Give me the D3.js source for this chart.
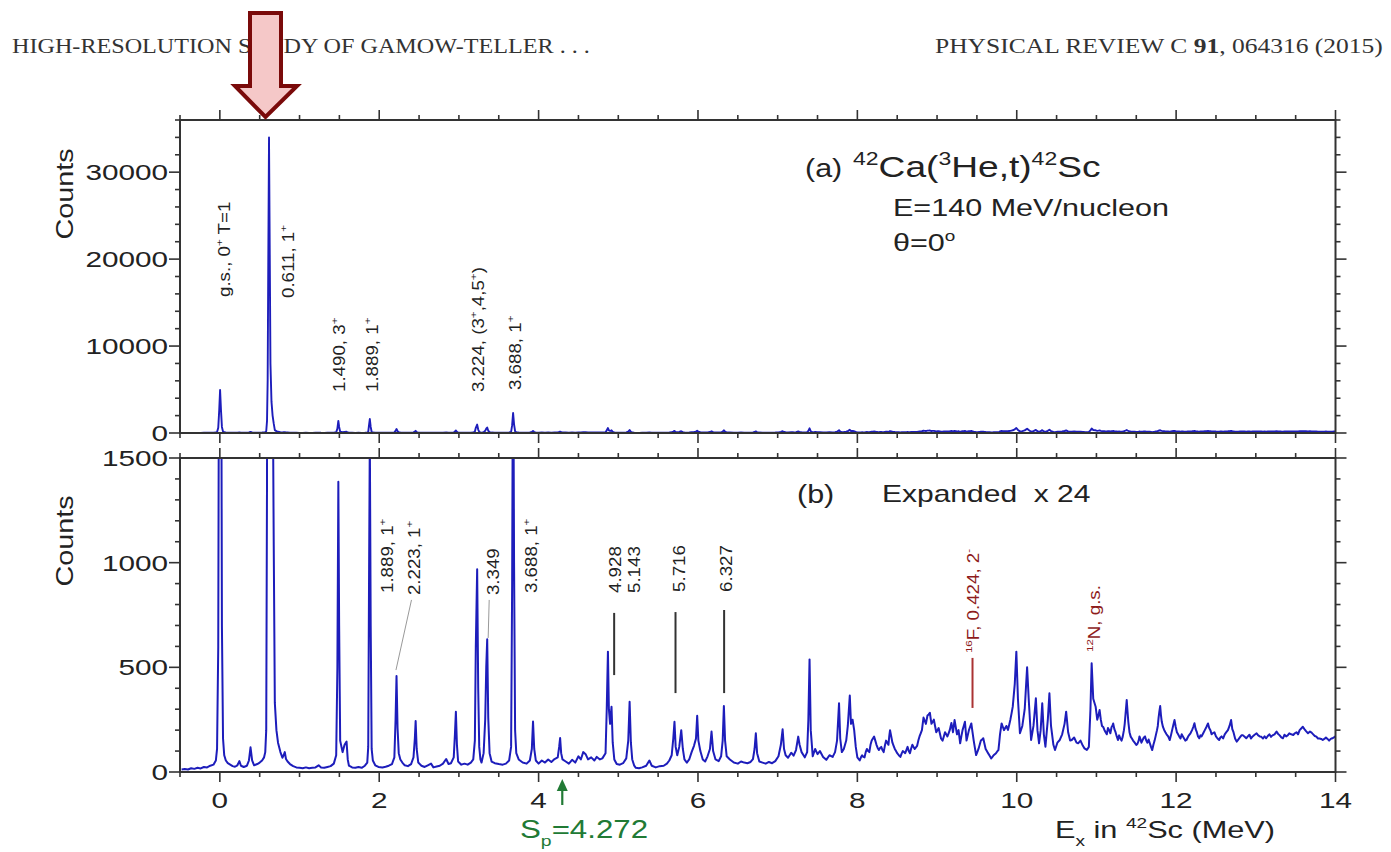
<!DOCTYPE html>
<html>
<head>
<meta charset="utf-8">
<script src="https://cdn.jsdelivr.net/npm/d3@7"></script>
<style>
  body { margin: 0; background: #fff; }
</style>
</head>
<body>
<div id="chart"></div>
<script>
const SVG_WIDTH = 1391;
const SVG_HEIGHT = 852;

////////// data //////////

// Ex in MeV, counts per bin
const spectrumLow = [
  [-0.48,12],[-0.44,14],[-0.40,12],[-0.36,18],[-0.32,15],[-0.28,20],[-0.24,17],[-0.20,24],[-0.16,22],[-0.12,30],
  [-0.08,35],[-0.05,55],[-0.035,110],[-0.02,600],[-0.008,2600],[0.003,4950],[0.014,2700],[0.026,700],[0.04,160],
  [0.055,80],[0.075,55],[0.1,42],[0.13,35],[0.16,28],[0.19,25],[0.22,32],[0.245,52],[0.265,30],[0.3,24],[0.34,30],
  [0.365,55],[0.385,118],[0.405,55],[0.43,32],[0.47,38],[0.5,45],[0.53,55],[0.555,70],[0.57,95],[0.582,200],
  [0.592,1400],[0.600,6000],[0.608,20000],[0.617,34000],[0.626,21000],[0.635,8000],[0.648,3600],[0.662,2000],
  [0.676,1100],[0.69,330],[0.71,200],[0.73,140],[0.76,95],[0.785,68],[0.80,80],[0.815,95],[0.83,62],[0.85,50],
  [0.88,38],[0.92,28],[0.96,22],[1.0,20],[1.04,18],[1.08,22],[1.12,18],[1.16,20],[1.2,22],[1.24,32],[1.27,22],
  [1.31,20],[1.35,24],[1.39,28],[1.43,40],[1.46,80],[1.475,500],[1.487,1387],[1.497,700],[1.51,150],[1.54,95],
  [1.565,130],[1.59,145],[1.605,60],[1.62,30],[1.66,22],[1.7,20],[1.74,24],[1.78,20],[1.82,30],[1.85,45],
  [1.862,120],[1.872,900],[1.882,1610],[1.893,700],[1.905,110],[1.92,55],[1.95,32],[1.99,24]
];

const spectrumMid = [
  [2.04,22],[2.08,25],[2.12,30],[2.16,38],[2.19,70],[2.205,250],[2.217,459],[2.23,210],[2.245,90],[2.265,60],
  [2.29,45],[2.32,32],[2.36,28],[2.4,38],[2.43,70],[2.447,160],[2.457,244],[2.47,110],[2.49,45],[2.53,30],
  [2.57,24],[2.61,32],[2.65,40],[2.68,22],[2.72,26],[2.76,30],[2.8,40],[2.84,62],[2.87,38],[2.9,42],[2.935,70],
  [2.95,180],[2.962,288],[2.975,130],[2.99,50],[3.03,35],[3.07,40],[3.11,35],[3.15,45],[3.18,60],[3.2,150],
  [3.212,600],[3.229,968],[3.242,400],[3.255,120],[3.27,60],[3.284,45],[3.31,90],[3.33,250],[3.343,500],
  [3.355,634],[3.368,260],[3.385,90],[3.41,50],[3.45,42],[3.5,38],[3.55,35],[3.59,40],[3.63,55],[3.655,120],
  [3.668,900],[3.68,2300],[3.692,1000],[3.705,200],[3.72,90],[3.75,60],[3.8,45],[3.85,40],[3.89,55],[3.915,110],
  [3.93,241],[3.945,110],[3.965,55],[4.0,40],[4.04,55],[4.08,45],[4.12,60],[4.16,48],[4.2,62],[4.24,70],
  [4.258,120],[4.27,162],[4.283,90],[4.3,60],[4.34,50],[4.38,40],[4.42,58],[4.46,45],[4.5,75],[4.53,60],
  [4.56,95],[4.59,85],[4.62,60],[4.66,70],[4.7,55],[4.73,72],[4.77,60],[4.8,65],[4.84,90],[4.855,300],
  [4.87,575],[4.882,300],[4.897,230],[4.915,312],[4.93,140],[4.95,60],[4.98,38],[5.02,35],[5.06,42],[5.1,65],
  [5.125,150],[5.142,336],[5.158,140],[5.175,60],[5.2,30],[5.22,20],[5.26,18],[5.3,22],[5.35,30],[5.39,55],
  [5.42,30],[5.47,22],[5.52,28],[5.57,30],[5.61,40],[5.64,55],[5.67,80],[5.69,160],[5.705,240],[5.72,120],
  [5.74,80],[5.765,120],[5.79,200],[5.81,110],[5.83,60],[5.86,45],[5.89,60],[5.92,95],[5.95,125],[5.975,160],
  [5.99,269],[6.005,150],[6.03,100],[6.06,60],[6.09,50],[6.12,75],[6.15,110],[6.17,193],[6.19,100],[6.22,60],
  [6.26,52],[6.29,75],[6.31,150],[6.325,315],[6.34,150],[6.36,75],[6.4,60],[6.45,45],[6.5,40],[6.54,50],
  [6.58,45],[6.62,42],[6.66,48],[6.69,62],[6.71,110],[6.726,185],[6.742,90],[6.77,50],[6.81,45],[6.85,40],
  [6.89,48],[6.93,42],[6.97,52],[7.01,75],[7.04,130],[7.062,204],[7.08,110],[7.1,80],[7.13,68],[7.17,92],
  [7.2,78],[7.23,105],[7.258,169],[7.275,130],[7.3,95],[7.34,70],[7.37,95],[7.385,250],[7.4,538],[7.415,200],
  [7.44,75],[7.47,110],[7.5,85],[7.53,100],[7.57,72],[7.61,58],[7.65,80],[7.69,72],[7.72,95],[7.745,150],
  [7.77,328],[7.785,160],[7.805,95],[7.83,110],[7.86,150],[7.88,220],[7.905,365],[7.92,230],[7.94,250],
  [7.96,200],[7.98,120],[8.0,70]
];

const spectrumHigh = [
  [8.03,55],[8.06,80],[8.09,70],[8.12,110],[8.15,95],[8.18,150],[8.21,169],[8.24,130],[8.27,105],[8.3,120],
  [8.33,95],[8.36,150],[8.39,130],[8.41,200],[8.44,140],[8.47,110],[8.5,90],[8.54,72],[8.57,100],[8.6,90],
  [8.63,120],[8.66,90],[8.69,130],[8.72,110],[8.75,125],[8.78,170],[8.81,200],[8.83,260],[8.86,230],[8.88,270],
  [8.91,283],[8.93,230],[8.96,250],[8.99,190],[9.02,210],[9.05,160],[9.07,150],[9.1,190],[9.13,170],[9.16,201],
  [9.18,234],[9.2,190],[9.22,248],[9.25,180],[9.27,200],[9.29,137],[9.32,200],[9.35,240],[9.37,150],[9.4,200],
  [9.43,232],[9.46,150],[9.49,81],[9.52,110],[9.55,150],[9.58,161],[9.61,110],[9.64,90],[9.68,65],[9.71,80],
  [9.74,90],[9.77,105],[9.79,180],[9.81,232],[9.84,200],[9.87,220],[9.89,201],[9.92,250],[9.95,312],[9.975,420],
  [9.995,575],[10.015,350],[10.04,185],[10.07,220],[10.1,300],[10.13,500],[10.15,350],[10.18,153],[10.21,220],
  [10.24,352],[10.26,200],[10.28,137],[10.3,200],[10.32,328],[10.34,180],[10.36,121],[10.39,250],[10.41,376],
  [10.43,220],[10.46,130],[10.48,105],[10.51,140],[10.54,153],[10.57,180],[10.6,230],[10.62,288],[10.645,190],
  [10.67,150],[10.69,153],[10.72,165],[10.75,140],[10.77,137],[10.8,150],[10.83,125],[10.85,113],[10.88,105],
  [10.905,120],[10.925,300],[10.94,519],[10.96,350],[10.99,312],[11.01,250],[11.04,296],[11.07,220],[11.1,201],
  [11.13,180],[11.16,200],[11.19,215],[11.21,232],[11.24,190],[11.27,153],[11.3,160],[11.33,169],[11.355,230],
  [11.38,344],[11.4,240],[11.43,169],[11.46,150],[11.5,129],[11.53,150],[11.55,160],[11.58,153],[11.61,170],
  [11.64,140],[11.67,137],[11.7,105],[11.73,150],[11.76,200],[11.78,260],[11.8,315],[11.82,240],[11.85,201],
  [11.88,180],[11.92,153],[11.95,200],[11.98,248],[12.01,190],[12.04,169],[12.07,180],[12.1,160],[12.13,153],
  [12.16,175],[12.2,200],[12.23,233],[12.26,190],[12.29,161],[12.32,170],[12.36,200],[12.4,232],[12.43,200],
  [12.46,185],[12.5,170],[12.54,153],[12.57,170],[12.61,180],[12.65,200],[12.69,248],[12.72,190],[12.76,145],
  [12.8,165],[12.84,175],[12.88,161],[12.92,178],[12.96,170],[13.01,185],[13.05,170],[13.09,160],[13.13,161],
  [13.17,180],[13.21,175],[13.26,193],[13.3,175],[13.34,161],[13.38,170],[13.42,185],[13.47,177],[13.51,190],
  [13.55,200],[13.59,216],[13.63,195],[13.68,193],[13.72,180],[13.76,169],[13.8,160],[13.84,153],[13.88,165],
  [13.92,150],[13.96,161],[14.0,170]
];

// finer channel-to-channel scatter in the continuum above 8 MeV
const spectrumScatter = [
  [8.045,70],[8.075,72],[8.105,95],[8.135,100],[8.165,130],[8.195,160],[8.225,150],[8.255,115],[8.285,115],
  [8.315,105],[8.345,125],[8.375,140],[8.40,170],[8.425,170],[8.455,125],[8.485,100],[8.52,80],[8.555,88],
  [8.585,95],[8.615,105],[8.645,100],[8.675,112],[8.705,120],[8.735,118],[8.765,150],[8.795,185],[8.82,230],
  [8.845,245],[8.87,250],[8.895,275],[8.92,255],[8.945,240],[8.975,220],[9.005,200],[9.035,185],[9.06,155],
  [9.085,170],[9.115,180],[9.145,185],[9.17,218],[9.19,212],[9.21,220],[9.235,214],[9.26,190],[9.28,168],
  [9.305,170],[9.335,220],[9.36,195],[9.385,175],[9.415,216],[9.445,190],[9.475,115],[9.505,95],[9.535,130],
  [9.565,155],[9.595,135],[9.625,100],[9.66,78],[9.695,72],[9.725,85],[9.755,98],[9.78,140],[9.8,206],
  [9.825,216],[9.855,210],[9.88,210],[9.905,225],[9.935,280],
  [11.025,270],[11.055,250],[11.085,215],[11.115,190],[11.145,210],[11.175,185],[11.2,220],[11.225,205],
  [11.255,170],[11.285,175],[11.315,150],[11.345,200],[11.39,290],[11.415,190],[11.445,160],[11.48,140],
  [11.515,135],[11.54,170],[11.565,140],[11.595,165],[11.625,150],[11.655,155],[11.685,120],[11.715,130],
  [11.745,175],[11.77,220],[11.79,290],[11.81,270],[11.835,215],[11.865,190],[11.9,170],[11.935,175],
  [11.965,225],[11.995,215],[12.025,180],[12.055,160],[12.085,170],[12.115,150],[12.145,165],[12.18,185],
  [12.215,215],[12.245,205],[12.275,170],[12.305,175],[12.34,185],[12.38,215],[12.415,210],[12.445,180],
  [12.48,190],[12.52,160],[12.555,165],[12.59,160],[12.63,190],[12.67,220],[12.705,205],[12.74,160],
  [12.78,155],[12.82,175],[12.86,168],[12.9,170],[12.94,160],[12.985,178],[13.03,175],[13.07,168],[13.11,170],
  [13.15,172],[13.19,168],[13.235,180],[13.28,182],[13.32,165],[13.36,178],[13.4,175],[13.445,180],[13.49,185],
  [13.53,180],[13.57,208],[13.61,205],[13.655,185],[13.7,188],[13.74,172],[13.78,160],[13.82,158],[13.86,158],
  [13.9,158],[13.94,158],[13.98,165]
];

const spectrum = spectrumLow.concat(spectrumMid, spectrumHigh, spectrumScatter)
    .sort(function(a, b) { return a[0] - b[0]; });

// axis ticks
const xMajorTicks = [0, 2, 4, 6, 8, 10, 12, 14];
const yMajorTicksA = [0, 10000, 20000, 30000];
const yMajorTicksB = [0, 500, 1000, 1500];

// peak annotations ( ^{..} superscript, _{..} subscript )
const peakLabelsA = ["g.s., 0^{+} T=1", "0.611, 1^{+}", "1.490, 3^{+}", "1.889, 1^{+}", "3.224, (3^{+},4,5^{+})", "3.688, 1^{+}"];
const peakLabelsB = ["1.889, 1^{+}", "2.223, 1^{+}", "3.349", "3.688, 1^{+}", "4.928", "5.143", "5.716", "6.327"];
const contamLabels = ["^{16}F, 0.424, 2^{-}", "^{12}N, g.s."];
const protonSep = 4.272;

////////// helpers //////////

var SANS = '"Liberation Sans", Arial, Helvetica, sans-serif';
var SERIF = '"Liberation Serif", "Times New Roman", serif';

// writes "a^{b}c_{d}*{e}" as tspans (super / sub / bold)
function rich(t, str, size) {
    var parts = str.split(/(\^\{[^}]*\}|_\{[^}]*\}|\*\{[^}]*\})/).filter(function(s) { return s !== ""; });
    var off = 0;
    parts.forEach(function(p) {
        var target = 0, fs = size, txt = p, bold = false;
        if (p.indexOf("^{") === 0) { target = -0.42 * size; fs = 0.62 * size; txt = p.slice(2, -1); }
        else if (p.indexOf("_{") === 0) { target = 0.32 * size; fs = 0.62 * size; txt = p.slice(2, -1); }
        else if (p.indexOf("*{") === 0) { bold = true; txt = p.slice(2, -1); }
        var ts = t.append("tspan").attr("dy", target - off).attr("font-size", fs).text(txt);
        if (bold) ts.attr("font-weight", "bold");
        off = target;
    });
}

function putText(parent, x, y, str, o) {
    var t = parent.append("text")
        .attr("transform", "translate(" + x + "," + y + ")" + (o.rot ? " rotate(" + o.rot + ")" : "") + " scale(" + (o.sx || 1) + ",1)")
        .attr("font-size", o.size)
        .attr("text-anchor", o.anchor || "start")
        .attr("fill", o.fill || "#222")
        .style("font-family", o.family || SANS);
    if (o.pre) t.style("white-space", "pre");
    rich(t, str, o.size);
    if (o.width) {
        var len = t.node().getComputedTextLength();
        t.attr("transform", "translate(" + x + "," + y + ") scale(" + (o.width / len) + ",1)");
    }
    return t;
}

////////// setup //////////

var svg = d3.select("#chart").append("svg")
    .attr("width", SVG_WIDTH)
    .attr("height", SVG_HEIGHT)
    .style("background", "#fff");

var x = d3.scaleLinear().domain([-0.5, 14]).range([180, 1335.5]);
var yA = d3.scaleLinear().domain([0, 36000]).range([433, 120]);
var yB = d3.scaleLinear().domain([0, 1500]).range([772, 458]);

var xMinorTicks = d3.range(-0.5, 14.001, 0.5);
var yMinorTicksA = d3.range(0, 36001, 2000);
var yMinorTicksB = d3.range(0, 1501, 100);

var AXIS = "#333";
var BLUE = "#1d1dbb";

var defs = svg.append("defs");
defs.append("clipPath").attr("id", "clipA").append("rect")
    .attr("x", x(-0.5)).attr("y", yA(36000)).attr("width", x(14) - x(-0.5)).attr("height", yA(0) - yA(36000));
defs.append("clipPath").attr("id", "clipB").append("rect")
    .attr("x", x(-0.5)).attr("y", yB(1500)).attr("width", x(14) - x(-0.5)).attr("height", yB(0) - yB(1500));

////////// spectra //////////

function drawSpectrum(y, clip, w) {
    svg.append("path")
        .datum(spectrum)
        .attr("clip-path", "url(#" + clip + ")")
        .attr("fill", "none")
        .attr("stroke", BLUE)
        .attr("stroke-width", w)
        .attr("stroke-linejoin", "round")
        .attr("d", d3.line().x(function(d) { return x(d[0]); }).y(function(d) { return y(d[1]); }));
}
drawSpectrum(yA, "clipA", 1.9);
drawSpectrum(yB, "clipB", 2);

////////// frames and ticks //////////

function frame(y) {
    svg.append("rect")
        .attr("x", x(-0.5)).attr("y", y.range()[1])
        .attr("width", x(14) - x(-0.5)).attr("height", y.range()[0] - y.range()[1])
        .attr("fill", "none").attr("stroke", AXIS).attr("stroke-width", 2);
}

function xTicks(yPos, dir) {
    svg.append("g").selectAll("line")
        .data(xMinorTicks)
        .enter().append("line")
        .attr("x1", function(d) { return x(d); })
        .attr("x2", function(d) { return x(d); })
        .attr("y1", yPos)
        .attr("y2", function(d) { return yPos + dir * (xMajorTicks.indexOf(d) >= 0 ? 10 : 5); })
        .attr("stroke", AXIS).attr("stroke-width", 1.6);
}

function yTicks(y, minor, major) {
    [[x(-0.5), -1], [x(14), 1]].forEach(function(side) {
        svg.append("g").selectAll("line")
            .data(minor)
            .enter().append("line")
            .attr("y1", function(d) { return y(d); })
            .attr("y2", function(d) { return y(d); })
            .attr("x1", side[0])
            .attr("x2", function(d) { return side[0] + side[1] * (major.indexOf(d) >= 0 ? 11 : 5); })
            .attr("stroke", AXIS).attr("stroke-width", 1.6);
    });
    major.forEach(function(v) {
        putText(svg, 168, y(v) + 8, String(v), {size: 22, sx: 1.35, anchor: "end"});
    });
}

frame(yA);
frame(yB);
xTicks(yA(36000), -1);
xTicks(yA(0), 1);
xTicks(yB(1500), -1);
xTicks(yB(0), 1);
yTicks(yA, yMinorTicksA, yMajorTicksA);
yTicks(yB, yMinorTicksB, yMajorTicksB);

xMajorTicks.forEach(function(v) {
    putText(svg, x(v), 808, String(v), {size: 22, sx: 1.35, anchor: "middle"});
});

putText(svg, 73, 194, "Counts", {size: 24, sx: 1.2, rot: -90, anchor: "middle"});
putText(svg, 73, 541, "Counts", {size: 24, sx: 1.2, rot: -90, anchor: "middle"});

////////// panel texts //////////

putText(svg, 805, 177, "(a)", {size: 25, sx: 1.22});
putText(svg, 853, 177, "^{42}Ca(^{3}He,t)^{42}Sc", {size: 29, sx: 1.28});
putText(svg, 893, 216, "E=140 MeV/nucleon", {size: 23.5, sx: 1.3});
putText(svg, 893, 251, "\u03b8=0^{o}", {size: 23.5, sx: 1.3});

putText(svg, 797, 503, "(b)", {size: 25, sx: 1.22});
putText(svg, 882, 502, "Expanded  x 24", {size: 24, sx: 1.25, pre: true});

// rotated peak labels: [Ex at baseline, counts where text starts]
var placeA = [[0.126, 15640], [0.928, 15525], [1.569, 4715], [1.983, 4715], [3.31, 4715], [3.777, 4945]];
peakLabelsA.forEach(function(s, i) {
    putText(svg, x(placeA[i][0]), yA(placeA[i][1]), s, {size: 16, sx: 1.17, rot: -90});
});

var placeB = [[2.171, 855], [2.51, 845], [3.50, 845], [3.978, 855], [5.032, 855], [5.27, 855], [5.835, 860], [6.425, 860]];
peakLabelsB.forEach(function(s, i) {
    putText(svg, x(placeB[i][0]), yB(placeB[i][1]), s, {size: 16, sx: 1.17, rot: -90});
});

var RED = "#8e1c1c";
var placeC = [[9.524, 568], [11.04, 573]];
contamLabels.forEach(function(s, i) {
    putText(svg, x(placeC[i][0]), yB(placeC[i][1]), s, {size: 16, sx: 1.17, rot: -90, fill: RED});
});

// leader lines (thin grey) and marker bars
[[2.21, 487, 2.405, 822], [3.367, 640, 3.38, 822]].forEach(function(l) {
    svg.append("line")
        .attr("x1", x(l[0])).attr("y1", yB(l[1])).attr("x2", x(l[2])).attr("y2", yB(l[3]))
        .attr("stroke", "#999").attr("stroke-width", 1);
});
[[4.948, 463, 760], [5.718, 377, 764], [6.328, 377, 774]].forEach(function(m) {
    svg.append("line")
        .attr("x1", x(m[0])).attr("x2", x(m[0])).attr("y1", yB(m[1])).attr("y2", yB(m[2]))
        .attr("stroke", "#333").attr("stroke-width", 2);
});
svg.append("line")
    .attr("x1", x(9.445)).attr("x2", x(9.445)).attr("y1", yB(306)).attr("y2", yB(545))
    .attr("stroke", "#a33").attr("stroke-width", 2);

////////// bottom annotations //////////

var GREEN = "#217a35";
var xs = x(protonSep) + 2;
svg.append("line")
    .attr("x1", xs).attr("x2", xs).attr("y1", 789).attr("y2", 805)
    .attr("stroke", GREEN).attr("stroke-width", 2.2);
svg.append("path")
    .attr("d", "M" + xs + ",779 L" + (xs + 5.5) + ",791 L" + (xs - 5.5) + ",791 Z")
    .attr("fill", GREEN);
putText(svg, 520, 838, "S_{p}=" + protonSep, {size: 25, sx: 1.25, fill: GREEN});

putText(svg, 1055, 838, "E_{x} in ^{42}Sc (MeV)", {size: 24, sx: 1.28});

////////// page header //////////

putText(svg, 12, 53, "HIGH-RESOLUTION STUDY OF GAMOW-TELLER . . .", {size: 22, family: SERIF, width: 578, fill: "#333"});
putText(svg, 935, 53, "PHYSICAL REVIEW C *{91}, 064316 (2015)", {size: 22, family: SERIF, width: 448, fill: "#333"});

// highlight arrow pointing at the 0.611 MeV peak
svg.append("path")
    .attr("d", "M250,13 L281,13 L281,86 L297,86 L265.5,117 L235,86 L250,86 Z")
    .attr("fill", "#f5c8c8")
    .attr("stroke", "#7a0a0a")
    .attr("stroke-width", 4)
    .attr("stroke-linejoin", "miter");
</script>
</body>
</html>
